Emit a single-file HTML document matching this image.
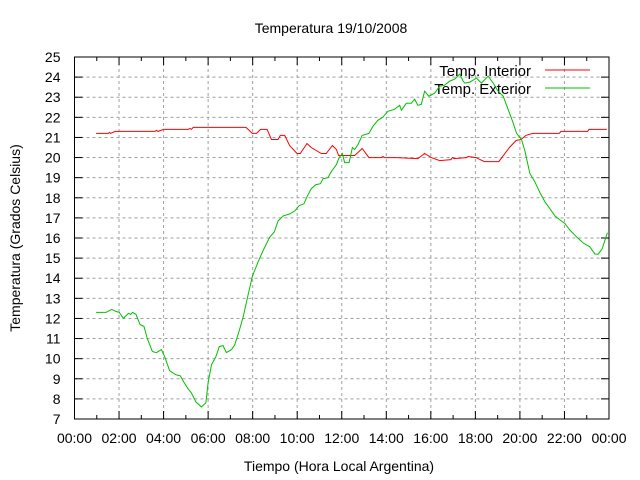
<!DOCTYPE html>
<html><head><meta charset="utf-8"><style>
html,body{margin:0;padding:0;background:#fff}
svg{display:block;font-family:"Liberation Sans",sans-serif}
</style></head><body>
<svg id="chart" width="640" height="480" viewBox="0 0 640 480">
<rect x="0" y="0" width="640" height="480" fill="#fff"/>
<text x="331" y="33" font-size="14" text-anchor="middle">Temperatura 19/10/2008</text>
<text x="339" y="471" font-size="14" text-anchor="middle">Tiempo (Hora Local Argentina)</text>
<text x="20" y="238" font-size="14" text-anchor="middle" transform="rotate(-90 20 238)">Temperatura (Grados Celsius)</text>
<g id="grid"></g>
<g id="axes"></g>
<g>
<text x="531" y="76" font-size="15" text-anchor="end">Temp. Interior</text>
<line x1="545" y1="70" x2="590" y2="70" stroke="#ff0000" stroke-width="1"/>
<text x="531" y="94" font-size="15" text-anchor="end">Temp. Exterior</text>
<line x1="545" y1="88" x2="590" y2="88" stroke="#00c000" stroke-width="1"/>
</g>
<g id="series"></g>
</svg>
<script>
const interiorHours=[0.97,1.52,1.57,1.62,1.82,3.61,3.68,3.75,4.0,5.1,5.18,5.25,5.33,7.7,7.99,8.17,8.35,8.65,8.84,9.14,9.24,9.44,9.66,9.99,10.14,10.44,10.63,11.08,11.3,11.58,11.76,11.86,12.58,12.92,13.22,13.77,13.85,13.92,14.45,15.42,15.72,16.02,16.4,16.9,16.97,17.05,17.6,17.68,18.03,18.4,19.05,19.53,19.83,20.05,20.27,20.57,21.77,21.84,23.04,23.1,23.9];
const interiorTemps=[21.2,21.2,21.25,21.2,21.3,21.3,21.35,21.3,21.4,21.4,21.45,21.4,21.5,21.5,21.2,21.2,21.4,21.4,20.9,20.9,21.1,21.1,20.6,20.2,20.2,20.7,20.5,20.2,20.2,20.6,20.4,20.1,20.1,20.45,20.0,20.0,20.05,20.0,20.0,19.95,20.2,20.0,19.85,19.9,20.0,19.95,20.0,20.05,20.0,19.8,19.8,20.5,20.85,20.9,21.1,21.2,21.2,21.3,21.3,21.4,21.4];
const exteriorHours=[0.97,1.41,1.67,1.86,2.01,2.19,2.42,2.52,2.61,2.76,2.94,3.12,3.27,3.5,3.68,3.9,4.05,4.27,4.55,4.75,4.9,5.1,5.25,5.45,5.7,5.9,6.0,6.15,6.35,6.5,6.67,6.82,7.05,7.2,7.4,7.58,7.8,7.99,8.24,8.5,8.77,8.97,9.14,9.37,9.67,9.9,10.08,10.3,10.44,10.63,10.83,11.04,11.16,11.38,11.53,11.76,11.88,12.03,12.13,12.33,12.48,12.58,12.73,12.92,13.22,13.4,13.62,13.84,14.07,14.37,14.6,14.68,14.9,15.12,15.27,15.42,15.57,15.72,15.91,16.17,16.4,16.62,16.85,17.07,17.3,17.45,17.52,17.75,18.05,18.27,18.57,18.8,19.02,19.25,19.47,19.67,19.85,20.07,20.22,20.45,20.67,20.9,21.12,21.35,21.57,21.8,22.02,22.24,22.54,22.84,23.14,23.37,23.52,23.7,23.93];
const exteriorTemps=[12.3,12.3,12.45,12.35,12.3,12.0,12.25,12.2,12.3,12.2,11.7,11.6,11.0,10.35,10.3,10.45,10.1,9.4,9.2,9.15,8.85,8.5,8.3,7.85,7.6,7.8,8.8,9.7,10.1,10.6,10.65,10.3,10.45,10.7,11.4,12.1,13.2,14.1,14.8,15.45,16.05,16.3,16.85,17.1,17.2,17.35,17.6,17.7,18.05,18.45,18.65,18.7,18.95,19.0,19.3,19.65,20.0,20.2,19.75,19.75,20.5,20.4,20.65,21.1,21.2,21.55,21.85,22.0,22.3,22.4,22.6,22.35,22.7,22.7,22.9,22.6,22.65,23.3,23.05,23.2,23.55,23.6,23.8,23.9,24.15,23.8,23.7,23.75,23.95,23.7,24.05,23.7,23.3,23.05,22.4,21.8,21.2,20.9,20.35,19.2,18.8,18.25,17.8,17.45,17.1,16.9,16.72,16.4,16.06,15.75,15.56,15.2,15.2,15.48,16.27];
const yTickLabels=["7","8","9","10","11","12","13","14","15","16","17","18","19","20","21","22","23","24","25"];
const xTickLabels=["00:00","02:00","04:00","06:00","08:00","10:00","12:00","14:00","16:00","18:00","20:00","22:00","00:00"];

const L=74.5,R=609,T=57,B=419,XMAX=24,YMIN=7,YMAX=25;
const sx=h=>L+(R-L)*h/XMAX;
const sy=v=>B-(B-T)*(v-YMIN)/(YMAX-YMIN);
const NS="http://www.w3.org/2000/svg";
function mk(tag,attrs,parent){const e=document.createElementNS(NS,tag);for(const k in attrs)e.setAttribute(k,attrs[k]);parent.appendChild(e);return e;}
const grid=document.getElementById('grid'),axes=document.getElementById('axes'),series=document.getElementById('series');

yTickLabels.forEach((lab,i)=>{
  const v=parseFloat(lab),y=sy(v);
  if(v>YMIN&&v<YMAX){
    const g=mk('line',{x1:L,x2:R,y1:y,y2:y,stroke:'#a0a0a0','stroke-dasharray':'3,3','stroke-width':1},grid);
    
    
  }
  const t1=mk('line',{x1:L,x2:L+8,y1:y,y2:y,stroke:'#000'},axes);
  
  
  const t2=mk('line',{x1:R-8,x2:R,y1:y,y2:y,stroke:'#000'},axes);
  
  
  const tx=mk('text',{x:L-14,y:y+5,'font-size':14,'text-anchor':'end'},axes);
  tx.textContent=lab;
  
  
});
xTickLabels.forEach((lab,i)=>{
  const h=i*2,x=sx(h);
  if(h>0&&h<XMAX){
    const g=mk('line',{x1:x,x2:x,y1:T,y2:B,stroke:'#a0a0a0','stroke-dasharray':'3,3','stroke-width':1},grid);
    
    
  }
  const tk=mk('line',{x1:x,x2:x,y1:B,y2:B-8,stroke:'#000'},axes);
  
  
  const tk2=mk('line',{x1:x,x2:x,y1:T,y2:T+8,stroke:'#000'},axes);
  
  
  if(i<xTickLabels.length-1){
    const xm=sx(h+1);
    const m=mk('line',{x1:xm,x2:xm,y1:B,y2:B-4,stroke:'#000'},axes);
    
    
    const m2=mk('line',{x1:xm,x2:xm,y1:T,y2:T+4,stroke:'#000'},axes);
    
    
  }
  const tx=mk('text',{x:x,y:443,'font-size':14,'text-anchor':'middle'},axes);
  tx.textContent=lab;
  
  
});
const frame=mk('rect',{x:L,y:T,width:R-L,height:B-T,fill:'none',stroke:'#000','stroke-width':1},axes);



function line(hs,vs,color,name){
  const p=hs.map((h,i)=>sx(h).toFixed(1)+','+sy(vs[i]).toFixed(1)).join(' ');
  const e=mk('polyline',{points:p,fill:'none',stroke:color,'stroke-width':1},series);
  
  
}
line(interiorHours,interiorTemps,'#ff0000','interior-temp-line');
line(exteriorHours,exteriorTemps,'#00c000','exterior-temp-line');
</script>
</body></html>
